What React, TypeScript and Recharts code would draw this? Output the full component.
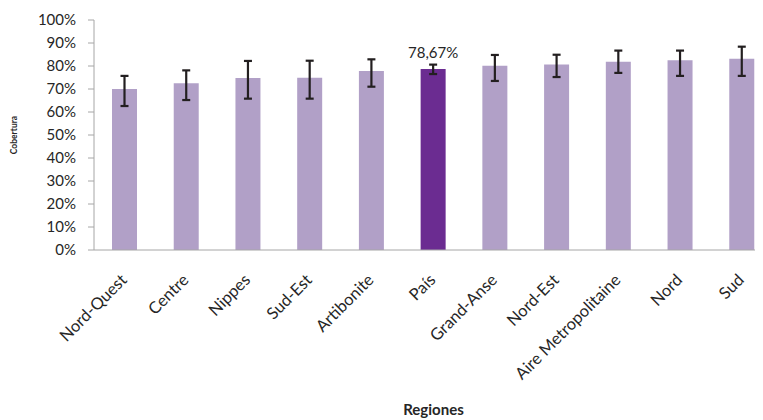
import { BarChart, Bar, XAxis, YAxis, Cell, ErrorBar, LabelList } from 'recharts';

const regions = ['Nord-Quest', 'Centre', 'Nippes', 'Sud-Est', 'Artibonite', 'País', 'Grand-Anse', 'Nord-Est', 'Aire Metropolitaine', 'Nord', 'Sud'];
const coverage = [70.0, 72.5, 74.8, 74.9, 77.8, 78.67, 80.1, 80.7, 81.9, 82.5, 83.2];
const lowerBound = [62.6, 65.2, 65.8, 65.8, 71.0, 76.5, 73.5, 75.2, 77.0, 75.7, 75.7];
const upperBound = [75.7, 78.1, 82.2, 82.3, 82.9, 80.6, 84.8, 84.9, 86.7, 86.7, 88.4];
const yTicks = [0, 10, 20, 30, 40, 50, 60, 70, 80, 90, 100];
const highlighted = 'País';

const data = regions.map((region, i) => ({
  region,
  value: coverage[i],
  err: [coverage[i] - lowerBound[i], upperBound[i] - coverage[i]],
}));

const FONT = 'Lato, "Open Sans", sans-serif';

const RotatedTick = ({ x, y, payload }: any) => (
  <text
    x={x + 3}
    y={y + 23}
    transform={`rotate(-45, ${x + 3}, ${y + 23})`}
    textAnchor="end"
    fontFamily={FONT}
    fontSize={16.5}
    fill="#262626"
  >
    {payload.value}
  </text>
);

const PaisLabel = ({ x, y, width, value, index }: any) => {
  if (regions[index] !== highlighted) return null;
  return (
    <text x={x + width / 2} y={y - 11} textAnchor="middle" fontFamily={FONT} fontSize={15} fill="#262626">
      {value.toFixed(2).replace('.', ',') + '%'}
    </text>
  );
};

export default function App() {
  return (
    <div style={{ width: 755, height: 412, overflow: 'hidden' }}>
      <BarChart width={780} height={412} data={data} margin={{ top: 12, right: 15, bottom: 40, left: 0 }}>
        <XAxis
          dataKey="region"
          interval={0}
          height={130}
          tickLine={false}
          axisLine={{ stroke: '#a6a6a6' }}
          tick={<RotatedTick />}
          label={({ viewBox }: any) => (
            <text
              x={viewBox.x + viewBox.width / 2}
              y={407}
              textAnchor="middle"
              fontFamily={FONT}
              fontSize={15}
              fontWeight="bold"
              fill="#262626"
            >
              Regiones
            </text>
          )}
        />
        <YAxis
          width={86}
          domain={[0, 100]}
          ticks={yTicks}
          interval={0}
          tickFormatter={(v: number) => `${v}%`}
          tickSize={6}
          tickMargin={12}
          axisLine={{ stroke: '#a6a6a6' }}
          tickLine={{ stroke: '#a6a6a6' }}
          tick={{ fontFamily: FONT, fontSize: 15, fill: '#262626' }}
          label={({ viewBox }: any) => (
            <text
              x={9}
              y={viewBox.y + viewBox.height / 2}
              transform={`rotate(-90, 9, ${viewBox.y + viewBox.height / 2})`}
              textAnchor="middle"
              fontFamily={FONT}
              fontSize={8.5}
              fontWeight="bold"
              fill="#262626"
            >
              Cobertura
            </text>
          )}
        />
        <Bar dataKey="value" barSize={25} isAnimationActive={false}>
          {data.map((d) => (
            <Cell key={d.region} fill={d.region === highlighted ? '#6b2c91' : '#b1a0c7'} />
          ))}
          <ErrorBar dataKey="err" width={4} strokeWidth={2.2} stroke="#231f20" direction="y" />
          <LabelList dataKey="value" content={<PaisLabel />} />
        </Bar>
      </BarChart>
    </div>
  );
}
